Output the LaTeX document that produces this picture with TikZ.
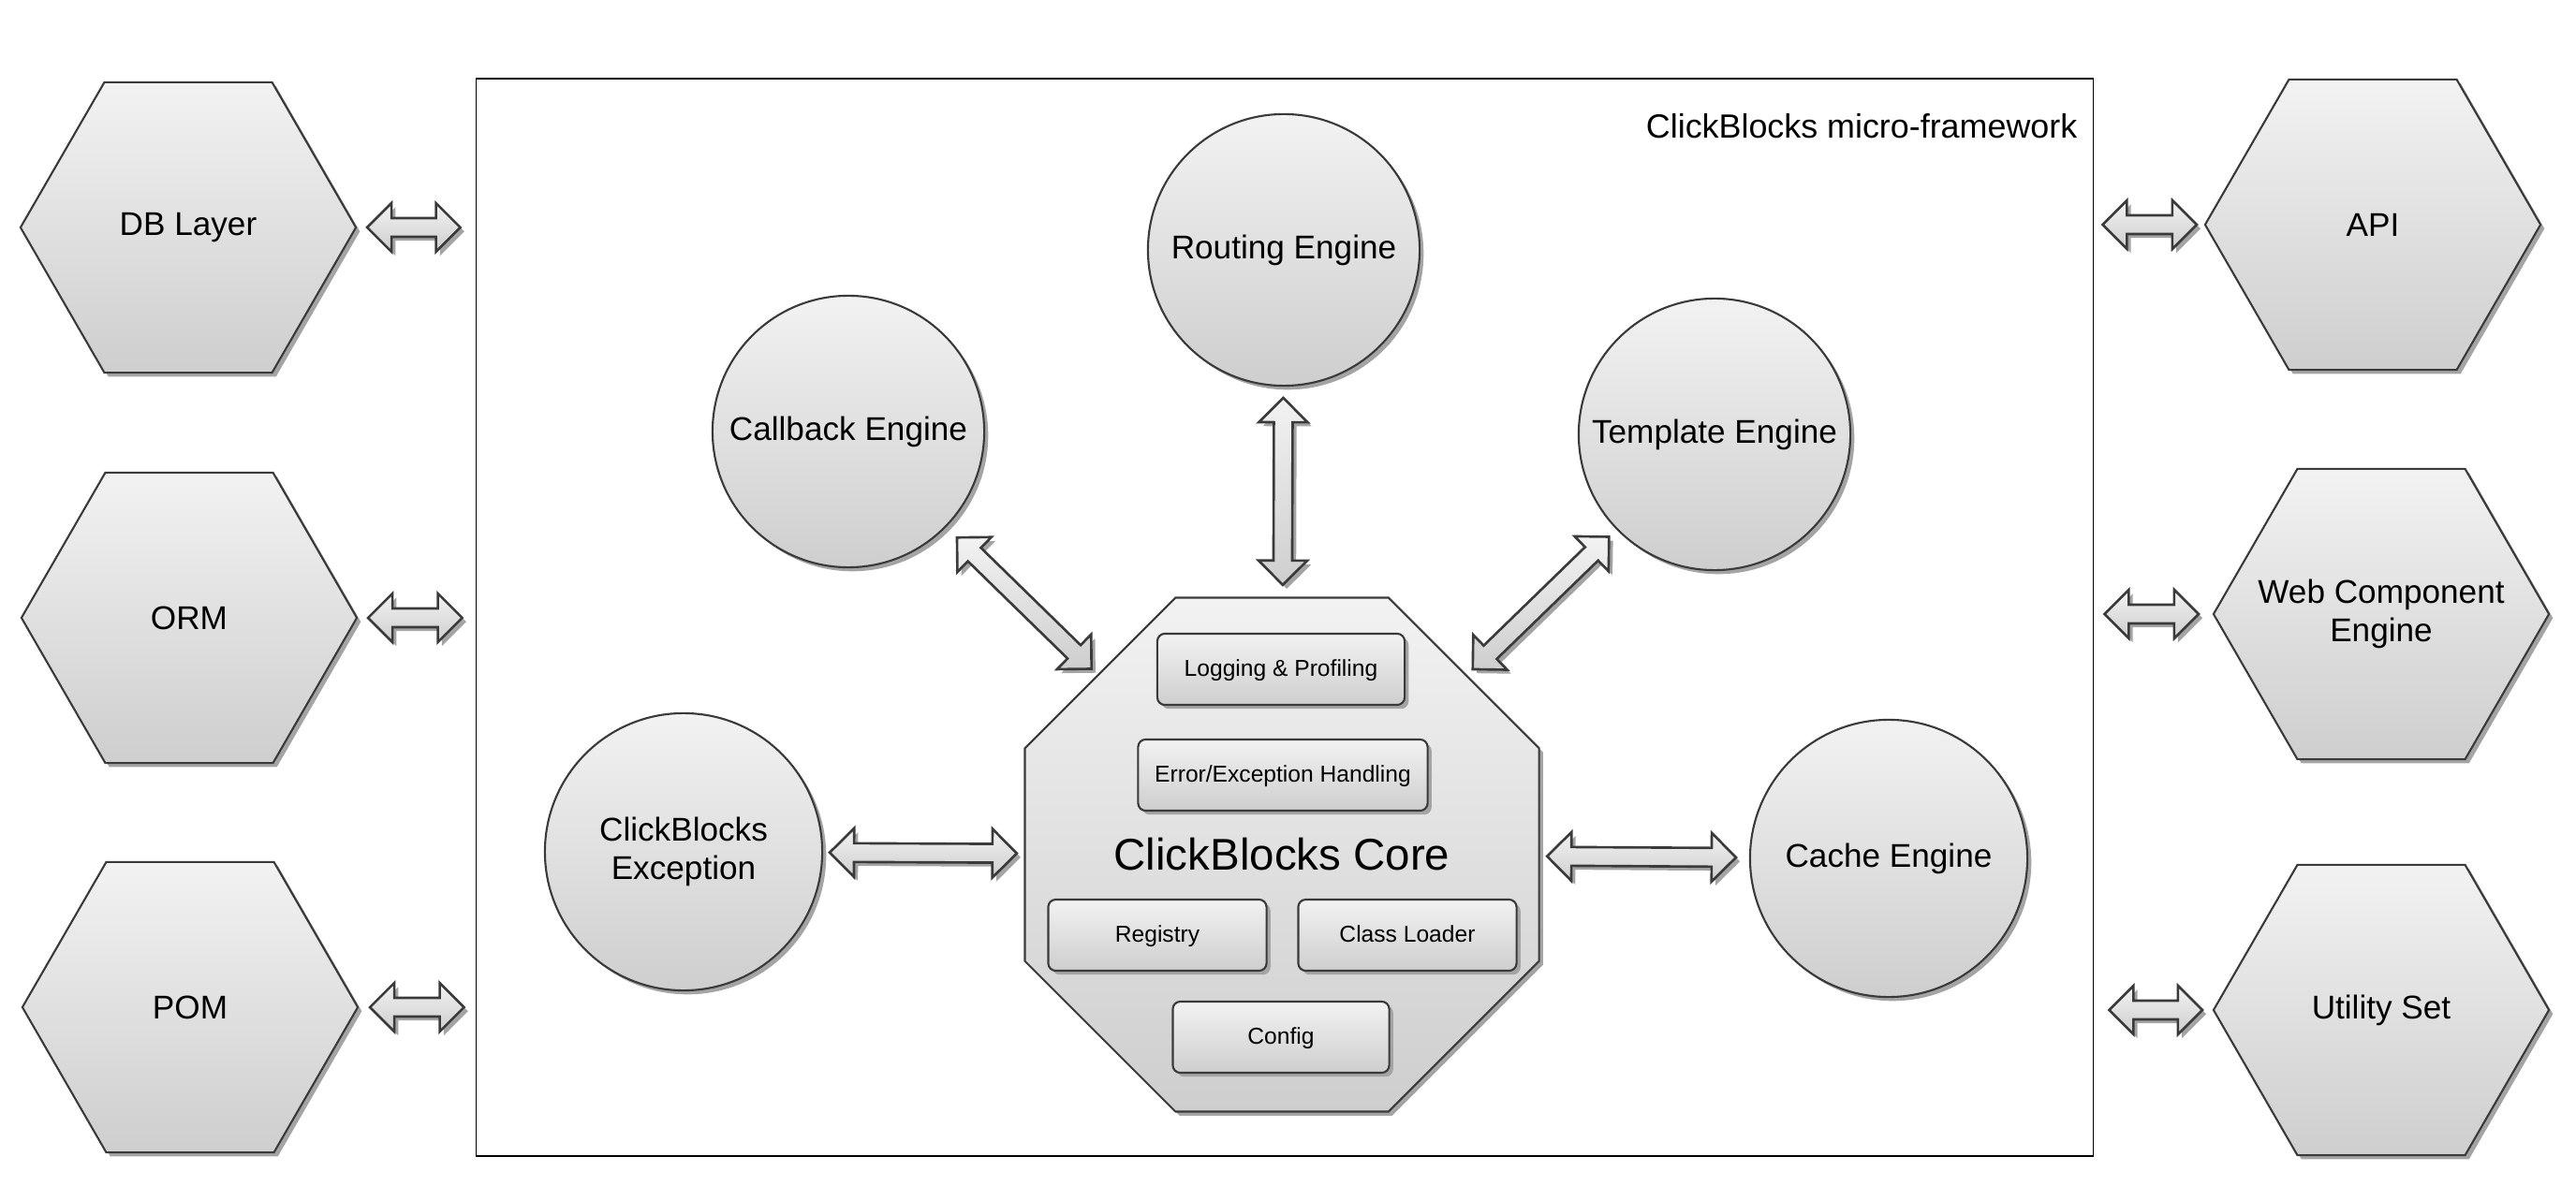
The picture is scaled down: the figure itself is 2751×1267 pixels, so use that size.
\documentclass[tikz,border=0pt]{standalone}
\usepackage{fontspec}
\setmainfont{Liberation Sans}
\usetikzlibrary{shapes.geometric, shadows, calc}

\definecolor{fillTop}{HTML}{F2F2F2}
\definecolor{fillBot}{HTML}{CECECE}
\definecolor{edgeGray}{HTML}{3A3A3A}
\definecolor{shadowGray}{HTML}{A4A4A4}

\newcommand{\arrHead}{0.26cm}
\newcommand{\arrHalf}{0.26cm}
\newcommand{\arrShaft}{0.10cm}

% fat double arrow, #3 and #4 are the gaps from the two centres
\newcommand{\biglink}[4]{%
  \path[bigarrow] let \p1=($(#1)!#3!(#2)$), \p2=($(#2)!#4!(#1)$) in
    (\p1) -- ($(\p1)!\arrHead!(\p2)!\arrHalf!90:(\p2)$)
    -- ($(\p1)!\arrHead!(\p2)!\arrShaft!90:(\p2)$)
    -- ($(\p2)!\arrHead!(\p1)!\arrShaft!-90:(\p1)$)
    -- ($(\p2)!\arrHead!(\p1)!\arrHalf!-90:(\p1)$)
    -- (\p2)
    -- ($(\p2)!\arrHead!(\p1)!\arrHalf!90:(\p1)$)
    -- ($(\p2)!\arrHead!(\p1)!\arrShaft!90:(\p1)$)
    -- ($(\p1)!\arrHead!(\p2)!\arrShaft!-90:(\p2)$)
    -- ($(\p1)!\arrHead!(\p2)!\arrHalf!-90:(\p2)$)
    -- cycle;}

\tikzset{
  softbox/.style={draw=edgeGray, line width=0.6pt, top color=fillTop, bottom color=fillBot,
    drop shadow={shadow xshift=1.2pt, shadow yshift=-1.2pt, fill=shadowGray, opacity=1}},
  hexa/.style={softbox, regular polygon, regular polygon sides=6, minimum size=3.58cm,
    inner sep=0pt, align=center, font=\fontsize{10}{11.7}\selectfont},
  hexlbl/.style={align=center, font=\fontsize{10}{11.7}\selectfont},
  engine/.style={softbox, circle, minimum size=2.9cm, inner sep=0pt, align=center,
    font=\fontsize{10}{11.7}\selectfont},
  octa/.style={softbox, regular polygon, regular polygon sides=8, minimum size=5.94cm,
    inner sep=0pt, font=\fontsize{13.5}{16}\selectfont},
  part/.style={softbox, rectangle, rounded corners=0.08cm, minimum height=0.76cm,
    inner sep=0pt, text height=5.6pt, text depth=1.2pt, font=\fontsize{7}{8}\selectfont},
  bigarrow/.style={softbox, line width=0.75pt},
}

\begin{document}
\begin{tikzpicture}[x=0.01cm, y=-0.01cm]
\useasboundingbox (0,0) rectangle (2751,1267);

\node[draw, line width=0.5pt, minimum width=17.26cm, minimum height=11.51cm, inner sep=0pt] (fw) at (1372,659.5) {};
\node[anchor=east, inner sep=0pt, font=\fontsize{10.2}{12}\selectfont] (fwTitle) at (2219,135) {ClickBlocks micro-framework};

\node[hexa] (db) at (201,243) {DB Layer};
\node[hexa] (orm) at (202,660) {ORM};
\node[hexa] (pom) at (203,1076) {POM};
\node[hexa] (api) at (2534,240) {API};
\node[hexa, label={[hexlbl]center:Web Component\\Engine}] (web) at (2543,656) {};
\node[hexa] (util) at (2543,1079) {Utility Set};

\node[engine] (routing) at (1371,267) {Routing Engine};
\node[engine] (callback) at (906,461) {Callback Engine};
\node[engine] (template) at (1831,464) {Template Engine};
\node[engine, minimum size=2.96cm] (exc) at (730,910) {ClickBlocks\\Exception};
\node[engine, minimum size=2.96cm] (cache) at (2017,917) {Cache Engine};

\node[octa] (core) at (1369,913) {ClickBlocks Core};
\node[part, minimum width=2.64cm] (log) at (1368,715) {Logging \& Profiling};
\node[part, minimum width=3.09cm] (err) at (1370,828) {Error/Exception Handling};
\node[part, minimum width=2.33cm] (reg) at (1236,999) {Registry};
\node[part, minimum width=2.33cm] (cls) at (1503,999) {Class Loader};
\node[part, minimum width=2.31cm] (cfg) at (1368,1108) {Config};

\biglink{callback}{core}{1.62cm}{2.84cm}
\biglink{routing}{core}{1.58cm}{2.88cm}
\biglink{template}{core}{1.57cm}{2.84cm}
\biglink{exc}{core}{1.56cm}{2.83cm}
\biglink{cache}{core}{1.63cm}{2.83cm}

\biglink{db}{fw.west|-db}{1.91cm}{0.16cm}
\biglink{orm}{fw.west|-orm}{1.91cm}{0.14cm}
\biglink{pom}{fw.west|-pom}{1.92cm}{0.12cm}
\biglink{api}{fw.east|-api}{1.88cm}{0.09cm}
\biglink{web}{fw.east|-web}{1.95cm}{0.11cm}
\biglink{util}{fw.east|-util}{1.91cm}{0.16cm}
\end{tikzpicture}
\end{document}
